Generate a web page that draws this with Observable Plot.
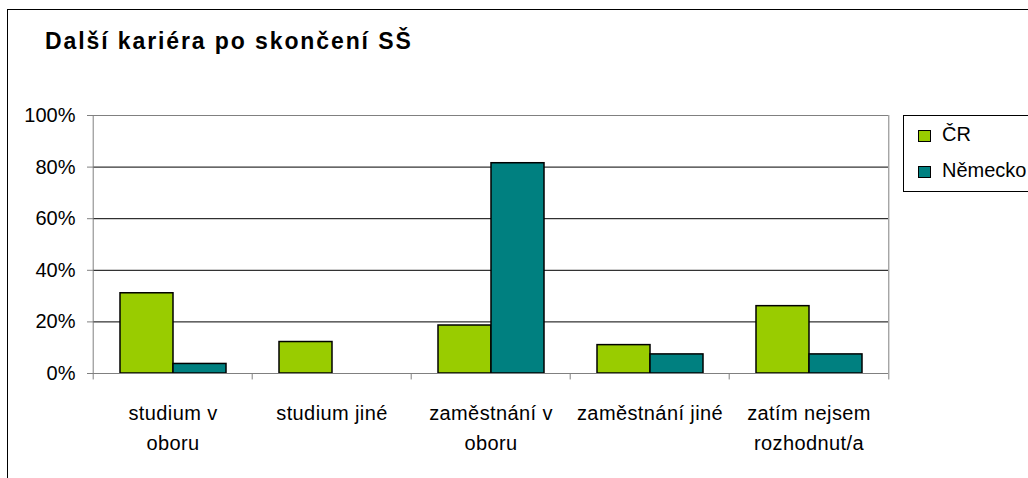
<!DOCTYPE html>
<html>
<head>
<meta charset="utf-8">
<script src="https://cdn.jsdelivr.net/npm/d3@7"></script>
<script src="https://cdn.jsdelivr.net/npm/@observablehq/plot@0.6"></script>
<style>
  html, body { margin: 0; padding: 0; background: #fff; overflow: hidden; }
  #wrap { position: relative; width: 1028px; height: 478px; overflow: hidden; font-family: "Liberation Sans", Arial, sans-serif; }
  #frame { position: absolute; left: 7px; top: 9px; width: 1200px; height: 600px; border: 1px solid #000; box-sizing: border-box; }
  #title { position: absolute; left: 45px; top: 29.4px; font-size: 23px; font-weight: bold; color: #000; white-space: nowrap; line-height: 24px; letter-spacing: 1.9px; }
  #chart { position: absolute; left: 0; top: 0; }
  #legend { position: absolute; left: 903px; top: 115px; width: 200px; height: 77px; border: 1px solid #000; box-sizing: border-box; background: #fff; }
  .item { position: absolute; left: 38px; font-size: 20px; line-height: 20px; color: #000; white-space: nowrap; }
  .sw { position: absolute; left: 14px; width: 13px; height: 12px; border: 1px solid #000; box-sizing: border-box; }
  .xlab text { letter-spacing: 0.4px; }
</style>
</head>
<body>
<div id="wrap">
  <div id="frame"></div>
  <div id="title">Další kariéra po skončení SŠ</div>
  <div id="chart"></div>
  <div id="legend"></div>
</div>
<script>
// ---- data ----
const categories = ["studium v oboru", "studium jiné", "zaměstnání v oboru", "zaměstnání jiné", "zatím nejsem rozhodnut/a"];
const categoryLabels = ["studium v\noboru", "studium jiné", "zaměstnání v\noboru", "zaměstnání jiné", "zatím nejsem\nrozhodnut/a"];
const seriesNames = ["ČR", "Německo"];
const seriesColors = ["#99CC00", "#008080"];
const valuesCR = [31.1, 12.2, 18.6, 11.0, 26.1];
const valuesDE = [3.7, 0, 81.5, 7.4, 7.4];
const yTicks = [0, 20, 40, 60, 80, 100];
const gridTicks = [20, 40, 60, 80];

// ---- table ----
const table = [];
categories.forEach((c, i) => {
  table.push({cat: c, series: seriesNames[0], value: valuesCR[i]});
  table.push({cat: c, series: seriesNames[1], value: valuesDE[i]});
});
const labelRows = categories.map((c, i) => ({cat: c, label: categoryLabels[i]}));

const W = 1028, H = 478;
const mL = 91, mR = 139, mT = 115, mB = 105;
const step = (W - mL - mR) / categories.length;

const chart = Plot.plot({
  width: W,
  height: H,
  marginLeft: mL,
  marginRight: mR,
  marginTop: mT,
  marginBottom: mB,
  style: {fontFamily: "'Liberation Sans', Arial, sans-serif", fontSize: "20px", color: "#000", background: "transparent"},
  fx: {domain: categories, padding: 0, axis: null},
  x: {domain: seriesNames, paddingInner: 0, paddingOuter: 0.5, axis: null},
  y: {domain: [0, 100], axis: null},
  color: {domain: seriesNames, range: seriesColors},
  marks: [
    Plot.ruleY(gridTicks, {stroke: "#000", strokeWidth: 1}),
    Plot.ruleY([100], {stroke: "#808080", strokeWidth: 1}),
    Plot.barY(table, {fx: "cat", x: "series", y: "value", fill: "series", stroke: "#000", strokeWidth: 1.5}),
    Plot.ruleY([0], {stroke: "#808080", strokeWidth: 1}),
    // left axis line
    Plot.ruleX([{cat: categories[0]}], {fx: "cat", x: null, dx: -step / 2, y1: 0, y2: 100, stroke: "#808080"}),
    // right plot border
    Plot.ruleX([{cat: categories[categories.length - 1]}], {fx: "cat", x: null, dx: step / 2, y1: 0, y2: 100, stroke: "#808080"}),
    // category boundary ticks
    Plot.ruleX(categories.map(c => ({cat: c})), {fx: "cat", x: null, dx: -step / 2, y1: 0, y2: -2.5, stroke: "#808080"}),
    Plot.ruleX([{cat: categories[categories.length - 1]}], {fx: "cat", x: null, dx: step / 2, y1: 0, y2: -2.5, stroke: "#808080"}),
    // y axis
    Plot.axisY(yTicks, {facetAnchor: "left", anchor: "left", label: null, tickSize: 6, tickPadding: 12, tickFormat: d => d + "%", fontSize: 20, stroke: "#808080", fill: "#000"}),
    // category labels
    Plot.text(labelRows, {fx: "cat", text: "label", frameAnchor: "bottom", lineAnchor: "top", dy: 25.3, lineHeight: 1.5, fontSize: 20, fill: "#000", className: "xlab"})
  ]
});
document.getElementById("chart").appendChild(chart);

// ---- legend ----
const legend = document.getElementById("legend");
seriesNames.forEach((s, i) => {
  const sw = document.createElement("div");
  sw.className = "sw";
  sw.style.top = (14 + i * 35.5) + "px";
  sw.style.background = seriesColors[i];
  legend.appendChild(sw);
  const it = document.createElement("div");
  it.className = "item";
  it.style.top = (8 + i * 35.5) + "px";
  it.textContent = s;
  legend.appendChild(it);
});
</script>
</body>
</html>
